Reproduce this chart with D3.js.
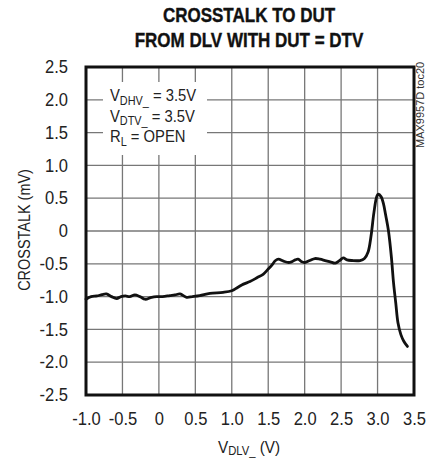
<!DOCTYPE html>
<html><head><meta charset="utf-8">
<script src="https://cdn.jsdelivr.net/npm/d3@7"></script>
<style>
body{margin:0;background:#fff;}
svg{display:block;font-family:"Liberation Sans",Arial,sans-serif;}
</style></head><body>
<svg id="c" width="427" height="460"></svg>
<script>
const titleLines = ["CROSSTALK TO DUT", "FROM DLV WITH DUT = DTV"];
const xTicks = [-1.0, -0.5, 0, 0.5, 1.0, 1.5, 2.0, 2.5, 3.0, 3.5];
const xTickLabels = ["-1.0", "-0.5", "0", "0.5", "1.0", "1.5", "2.0", "2.5", "3.0", "3.5"];
const yTicks = [2.5, 2.0, 1.5, 1.0, 0.5, 0, -0.5, -1.0, -1.5, -2.0, -2.5];
const yTickLabels = ["2.5", "2.0", "1.5", "1.0", "0.5", "0", "-0.5", "-1.0", "-1.5", "-2.0", "-2.5"];
const vdlv = [-1.0,-0.93,-0.85,-0.78,-0.72,-0.65,-0.58,-0.52,-0.46,-0.40,-0.33,-0.26,-0.19,-0.10,-0.03,0.05,0.15,0.22,0.29,0.38,0.46,0.56,0.70,0.88,1.0,1.08,1.16,1.25,1.35,1.43,1.50,1.55,1.60,1.64,1.71,1.78,1.82,1.87,1.91,1.96,2.0,2.07,2.14,2.21,2.28,2.35,2.42,2.48,2.53,2.58,2.65,2.76,2.82,2.87,2.91,2.95,2.99,3.01,3.05,3.08,3.11,3.15,3.19,3.22,3.25,3.28,3.32,3.36,3.41];
const crosstalk = [-1.04,-1.0,-0.99,-0.97,-0.96,-1.0,-1.03,-1.0,-0.99,-1.0,-0.975,-1.0,-1.04,-1.01,-1.0,-1.0,-0.985,-0.975,-0.96,-1.01,-1.0,-0.985,-0.95,-0.935,-0.91,-0.86,-0.81,-0.77,-0.71,-0.66,-0.58,-0.52,-0.45,-0.43,-0.46,-0.48,-0.47,-0.44,-0.43,-0.47,-0.48,-0.45,-0.42,-0.43,-0.45,-0.47,-0.49,-0.45,-0.41,-0.44,-0.45,-0.45,-0.42,-0.32,-0.08,0.28,0.53,0.56,0.52,0.42,0.25,0.0,-0.4,-0.8,-1.1,-1.4,-1.58,-1.68,-1.76];

const svg = d3.select("#c");
const L = 86, R = 414, T = 67, B = 395;
const x = d3.scaleLinear().domain([-1, 3.5]).range([L, R]);
const y = d3.scaleLinear().domain([-2.5, 2.5]).range([B, T]);

function ctext(px, py, sx, rot) {
  return svg.append("text")
    .attr("transform", `translate(${px},${py})` + (rot ? ` rotate(${rot})` : "") + ` scale(${sx},1)`);
}

// title
titleLines.forEach((t, i) => {
  ctext(249, 22 + i * 24.5, 0.81).attr("text-anchor", "middle").attr("font-size", 21)
    .attr("font-weight", "bold").attr("fill", "#111").attr("stroke", "#111").attr("stroke-width", 0.4).text(t);
});

// grid
const g = svg.append("g");
g.selectAll("line.v").data(xTicks.slice(1, -1)).join("line")
  .attr("x1", d => x(d)).attr("x2", d => x(d)).attr("y1", T).attr("y2", B)
  .attr("stroke", "#777").attr("stroke-width", 1.3);
g.selectAll("line.h").data(yTicks.slice(1, -1)).join("line")
  .attr("x1", L).attr("x2", R).attr("y1", d => y(d)).attr("y2", d => y(d))
  .attr("stroke", "#777").attr("stroke-width", 1.3);

// legend box
svg.append("rect").attr("x", 103).attr("y", 82).attr("width", 104).attr("height", 73).attr("fill", "#fff");
function legendLine(yy, main, sub, rest) {
  const t = ctext(110, yy, 0.87).attr("font-size", 17).attr("fill", "#222");
  t.append("tspan").text(main);
  t.append("tspan").attr("font-size", 12.5).attr("dy", 3.5).text(sub);
  t.append("tspan").attr("dy", -3.5).text(rest);
}
legendLine(101, "V", "DHV_", " = 3.5V");
legendLine(121.5, "V", "DTV_", " = 3.5V");
legendLine(142, "R", "L", " = OPEN");

// curve
const line = d3.line().x(d => x(d[0])).y(d => y(d[1])).curve(d3.curveCatmullRom.alpha(0.5));
svg.append("path").datum(vdlv.map((v, i) => [v, crosstalk[i]]))
  .attr("d", line).attr("fill", "none").attr("stroke", "#111").attr("stroke-width", 2.8)
  .attr("stroke-linejoin", "round").attr("stroke-linecap", "round");

// frame
svg.append("rect").attr("x", L).attr("y", T).attr("width", R - L).attr("height", B - T)
  .attr("fill", "none").attr("stroke", "#111").attr("stroke-width", 3);

// axes (labels only)
const xa = svg.append("g").attr("transform", `translate(0,${B})`)
  .call(d3.axisBottom(x).tickValues(xTicks).tickFormat((d, i) => xTickLabels[i]).tickSize(0).tickPadding(17));
xa.select(".domain").remove();
xa.selectAll("text").attr("font-size", 18).attr("fill", "#222").attr("transform", "scale(0.92,1)");
xa.attr("font-family", null);

const ya = svg.append("g").attr("transform", `translate(${L},0)`)
  .call(d3.axisLeft(y).tickValues(yTicks).tickFormat((d, i) => yTickLabels[i]).tickSize(0).tickPadding(18));
ya.select(".domain").remove();
ya.selectAll("text").attr("font-size", 18).attr("fill", "#222").attr("x", -19.5).attr("transform", "scale(0.92,1)");
ya.attr("font-family", null);

// axis titles
const xt = ctext(249, 453, 0.9).attr("text-anchor", "middle").attr("font-size", 17).attr("fill", "#222");
xt.append("tspan").text("V");
xt.append("tspan").attr("font-size", 12.5).attr("dy", 2).text("DLV_");
xt.append("tspan").attr("dy", -2).text(" (V)");

ctext(30, 230, 0.85, -90).attr("text-anchor", "middle")
  .attr("font-size", 17).attr("fill", "#222").text("CROSSTALK (mV)");

ctext(424, 148, 1, -90).attr("text-anchor", "start")
  .attr("font-size", 11).attr("fill", "#333").text("MAX9957D toc20");
</script>
</body></html>
